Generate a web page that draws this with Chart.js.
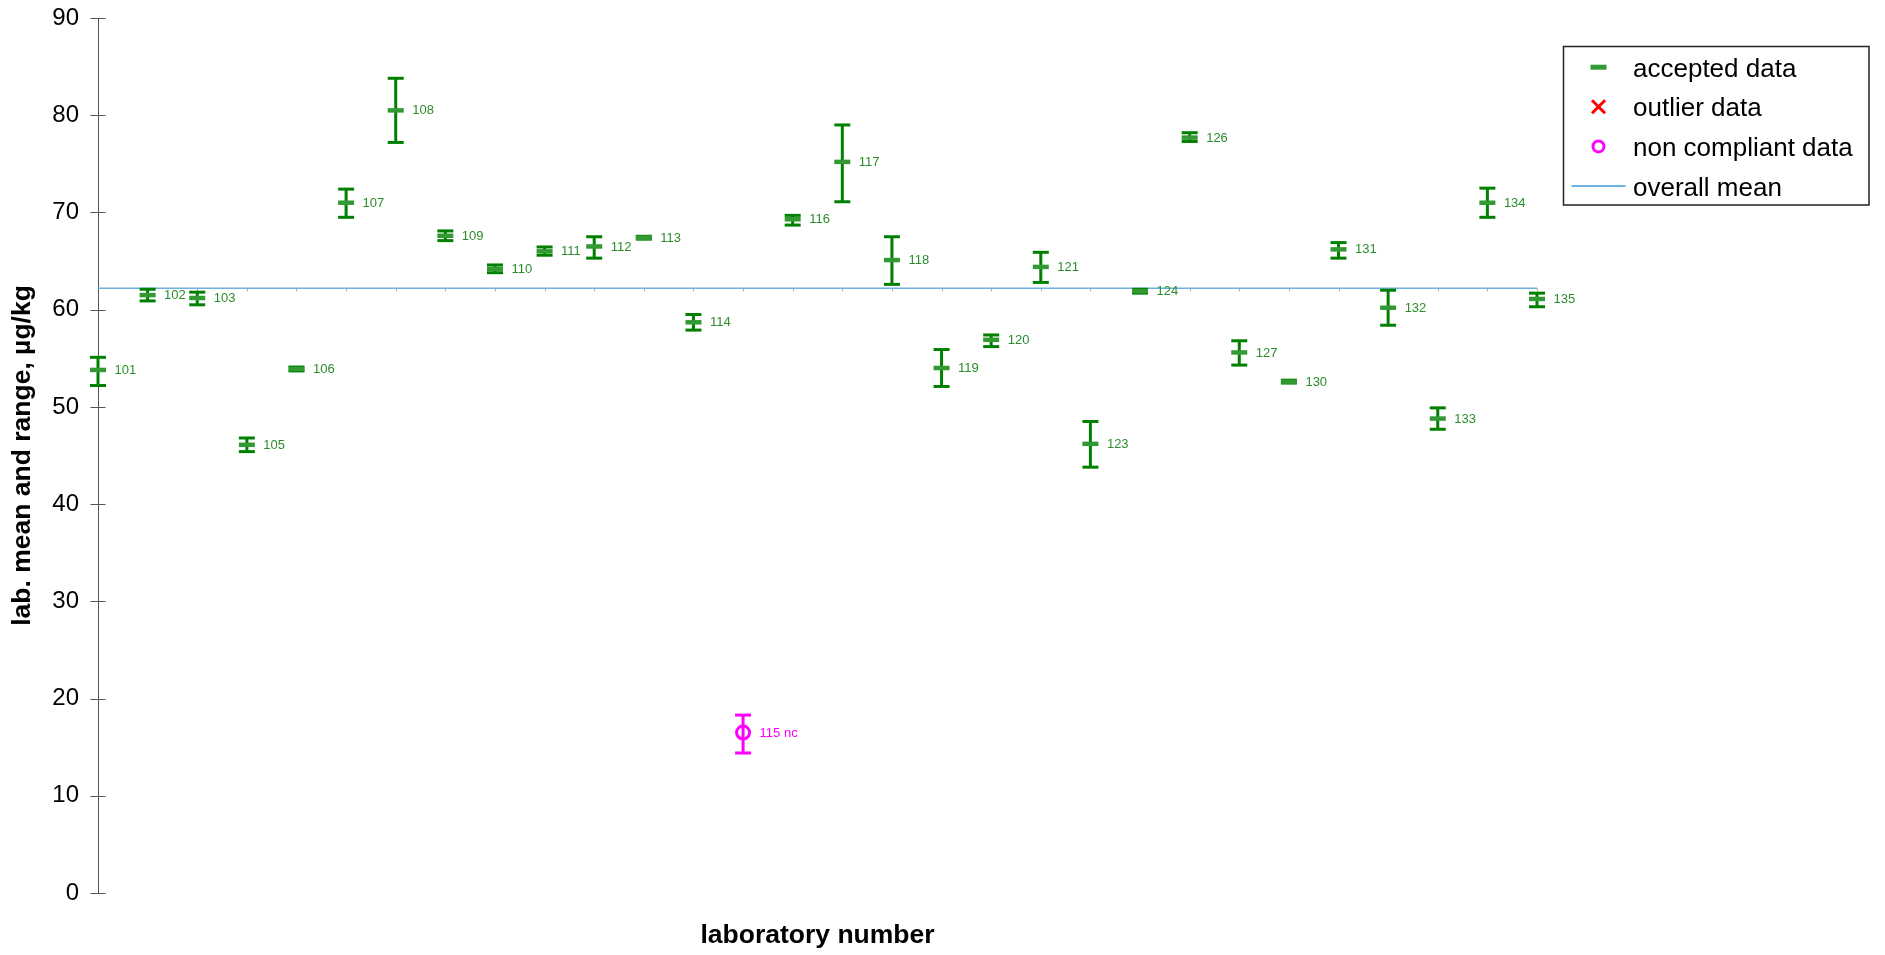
<!DOCTYPE html>
<html>
<head>
<meta charset="utf-8">
<title>Laboratory means and ranges</title>
<script src="https://cdn.jsdelivr.net/npm/chart.js@4.4.1/dist/chart.umd.min.js"></script>
<style>
  html, body { margin: 0; padding: 0; background: #fff; }
  .Container { width: 1885px; height: 955px; position: relative; }
</style>
</head>
<body>
<div class="Container"><canvas id="chart"></canvas></div>
<script>
// lab results (µg/kg)
const labs = ['101', '102', '103', '105', '106', '107', '108', '109', '110', '111',
              '112', '113', '114', '115', '116', '117', '118', '119', '120', '121',
              '123', '124', '126', '127', '130', '131', '132', '133', '134', '135'];
const labMeans = [53.8, 61.5, 61.2, 46.1, 53.9, 71.0, 80.5, 67.6, 64.2, 66.0,
                  66.5, 67.4, 58.7, 16.5, 69.3, 75.2, 65.1, 54.0, 56.9, 64.4,
                  46.2, 61.9, 77.7, 55.6, 52.6, 66.2, 60.2, 48.8, 71.0, 61.1];
const labLows = [52.2, 60.9, 60.5, 45.4, 53.7, 69.5, 77.2, 67.1, 63.8, 65.6,
                 65.3, 67.25, 57.9, 14.4, 68.7, 71.1, 62.6, 52.1, 56.2, 62.8,
                 43.8, 61.7, 77.3, 54.3, 52.45, 65.3, 58.4, 47.7, 69.5, 60.3];
const labHighs = [55.1, 62.1, 61.8, 46.8, 54.1, 72.4, 83.8, 68.1, 64.6, 66.45,
                  67.5, 67.55, 59.5, 18.3, 69.7, 79.0, 67.5, 55.9, 57.4, 65.9,
                  48.5, 62.1, 78.2, 56.8, 52.75, 66.9, 62.0, 49.9, 72.5, 61.7];
// 'ok' = accepted, 'nc' = non compliant
const labStatus = ['ok', 'ok', 'ok', 'ok', 'ok', 'ok', 'ok', 'ok', 'ok', 'ok',
                   'ok', 'ok', 'ok', 'nc', 'ok', 'ok', 'ok', 'ok', 'ok', 'ok',
                   'ok', 'ok', 'ok', 'ok', 'ok', 'ok', 'ok', 'ok', 'ok', 'ok'];
const overallMean = 62.2;
const yMin = 0, yMax = 90, yStep = 10;
const legendItems = ['accepted data', 'outlier data', 'non compliant data', 'overall mean'];

const GREEN = '#008000';
const GREEN_MEAN = '#339933';
const GREEN_TEXT = '#2c8c2c';
const MAGENTA = '#ff00ff';
const MEAN_BLUE = '#6cb2e2';
const FONT = '"Liberation Sans", Arial, Helvetica, sans-serif';

const idx = labs.map((_, i) => i);
const accepted = idx.filter(i => labStatus[i] === 'ok');
const nonCompliant = idx.filter(i => labStatus[i] === 'nc');

const meanPoints = list => list.map(i => ({ x: i, y: labMeans[i] }));
const capPoints = list => list.flatMap(i => [{ x: i, y: labLows[i] }, { x: i, y: labHighs[i] }]);
// vertical range segments, broken by null gaps
const rangeSegments = list => list.flatMap(i => [
  { x: i, y: labLows[i] }, { x: i, y: labHighs[i] }, { x: i, y: null }
]);

// y ticks crossing the axis + small category ticks along the mean line
const axisTicks = {
  id: 'axisTicks',
  beforeDatasetsDraw(chart) {
    const { ctx, scales: { x, y } } = chart;
    ctx.save();
    ctx.strokeStyle = '#555';
    ctx.lineWidth = 1;
    y.ticks.forEach(t => {
      const py = Math.round(y.getPixelForValue(t.value)) + 0.5;
      ctx.beginPath();
      ctx.moveTo(x.left - 7.5, py);
      ctx.lineTo(x.left + 7.5, py);
      ctx.stroke();
    });
    ctx.strokeStyle = '#aaa';
    const my = y.getPixelForValue(overallMean);
    idx.slice(1).forEach(i => {
      const px = Math.round(x.getPixelForValue(i)) + 0.5;
      ctx.beginPath();
      ctx.moveTo(px, my);
      ctx.lineTo(px, my + 3);
      ctx.stroke();
    });
    ctx.restore();
  }
};

// lab number next to each mean
const pointLabels = {
  id: 'pointLabels',
  afterDatasetsDraw(chart) {
    const { ctx, scales: { x, y } } = chart;
    ctx.save();
    ctx.font = '13px ' + FONT;
    ctx.textAlign = 'left';
    ctx.textBaseline = 'middle';
    idx.forEach(i => {
      const nc = labStatus[i] === 'nc';
      ctx.fillStyle = nc ? MAGENTA : GREEN_TEXT;
      ctx.fillText(nc ? labs[i] + ' nc' : labs[i],
        x.getPixelForValue(i) + 16.5, y.getPixelForValue(labMeans[i]) + 0.5);
    });
    ctx.restore();
  }
};

// boxed legend at the top right
const legendBox = {
  id: 'legendBox',
  afterDraw(chart) {
    const { ctx } = chart;
    const left = 1563.5, top = 46.5, right = 1869, bottom = 205;
    const markX = 1598.5, textX = 1633, rowH = 39.6, firstBase = 76.7;
    ctx.save();
    ctx.fillStyle = '#fff';
    ctx.fillRect(left, top, right - left, bottom - top);
    ctx.strokeStyle = '#222';
    ctx.lineWidth = 1.5;
    ctx.strokeRect(left, top, right - left, bottom - top);

    ctx.font = '26px ' + FONT;
    ctx.fillStyle = '#000';
    ctx.textBaseline = 'alphabetic';
    legendItems.forEach((txt, k) => {
      const base = firstBase + k * rowH;
      const cy = base - 9.5;
      ctx.fillText(txt, textX, base);
      ctx.beginPath();
      if (k === 0) {
        ctx.strokeStyle = GREEN_MEAN;
        ctx.lineWidth = 5;
        ctx.moveTo(markX - 8, cy);
        ctx.lineTo(markX + 8, cy);
      } else if (k === 1) {
        ctx.strokeStyle = '#ff0000';
        ctx.lineWidth = 3;
        ctx.moveTo(markX - 6.5, cy - 6.5);
        ctx.lineTo(markX + 6.5, cy + 6.5);
        ctx.moveTo(markX + 6.5, cy - 6.5);
        ctx.lineTo(markX - 6.5, cy + 6.5);
      } else if (k === 2) {
        ctx.strokeStyle = MAGENTA;
        ctx.lineWidth = 3;
        ctx.arc(markX, cy, 5.5, 0, Math.PI * 2);
      } else {
        ctx.strokeStyle = MEAN_BLUE;
        ctx.lineWidth = 2;
        ctx.moveTo(1571.5, cy);
        ctx.lineTo(1625.5, cy);
      }
      ctx.stroke();
    });
    ctx.restore();
  }
};

const ctx = document.getElementById('chart').getContext('2d');
new Chart(ctx, {
  type: 'scatter',
  data: {
    datasets: [
      {
        label: 'accepted data',
        data: meanPoints(accepted),
        pointStyle: 'line',
        pointRadius: 8,
        pointBorderWidth: 4.5,
        pointBorderColor: GREEN_MEAN,
        clip: false
      },
      {
        label: 'non compliant data',
        data: meanPoints(nonCompliant),
        pointStyle: 'circle',
        pointRadius: 6.5,
        pointBorderWidth: 3,
        pointBorderColor: MAGENTA,
        pointBackgroundColor: 'rgba(0,0,0,0)',
        clip: false
      },
      {
        label: 'caps accepted',
        data: capPoints(accepted),
        pointStyle: 'line',
        pointRadius: 8,
        pointBorderWidth: 3,
        pointBorderColor: GREEN,
        clip: false
      },
      {
        label: 'caps nc',
        data: capPoints(nonCompliant),
        pointStyle: 'line',
        pointRadius: 8,
        pointBorderWidth: 3,
        pointBorderColor: MAGENTA,
        clip: false
      },
      {
        label: 'range accepted',
        data: rangeSegments(accepted),
        showLine: true,
        spanGaps: false,
        borderColor: GREEN,
        borderWidth: 3,
        pointRadius: 0,
        clip: false
      },
      {
        label: 'range nc',
        data: rangeSegments(nonCompliant),
        showLine: true,
        spanGaps: false,
        borderColor: MAGENTA,
        borderWidth: 3,
        pointRadius: 0,
        clip: false
      },
      {
        label: 'overall mean',
        data: [{ x: 0, y: overallMean }, { x: labs.length - 1, y: overallMean }],
        showLine: true,
        borderColor: MEAN_BLUE,
        borderWidth: 1.6,
        pointRadius: 0,
        clip: false
      }
    ]
  },
  options: {
    responsive: true,
    maintainAspectRatio: false,
    animation: false,
    layout: { padding: { top: 18, right: 348, left: 0, bottom: 0 } },
    scales: {
      x: {
        type: 'linear',
        min: 0,
        max: labs.length - 1,
        offset: false,
        grid: { display: false },
        border: { display: false },
        ticks: { display: false },
        title: {
          display: true,
          text: 'laboratory number',
          color: '#000',
          font: { family: FONT, size: 26.5, weight: 'bold' },
          padding: { top: 0, bottom: 3 }
        },
        afterFit: scale => { scale.height = 62; }
      },
      y: {
        min: yMin,
        max: yMax,
        grid: { display: false, drawTicks: false },
        border: { display: true, color: '#555', width: 1 },
        ticks: {
          stepSize: yStep,
          padding: 19,
          color: '#000',
          font: { family: FONT, size: 24 }
        },
        title: {
          display: true,
          text: 'lab. mean and range, µg/kg',
          color: '#000',
          font: { family: FONT, size: 26.5, weight: 'bold' },
          padding: { top: 7, bottom: 0 }
        },
        afterFit: scale => {
          scale.width = 98;
          scale.paddingTop = 0;
          scale.paddingBottom = 0;
        }
      }
    },
    plugins: {
      legend: { display: false },
      tooltip: { enabled: false }
    }
  },
  plugins: [axisTicks, pointLabels, legendBox]
});
</script>
</body>
</html>
